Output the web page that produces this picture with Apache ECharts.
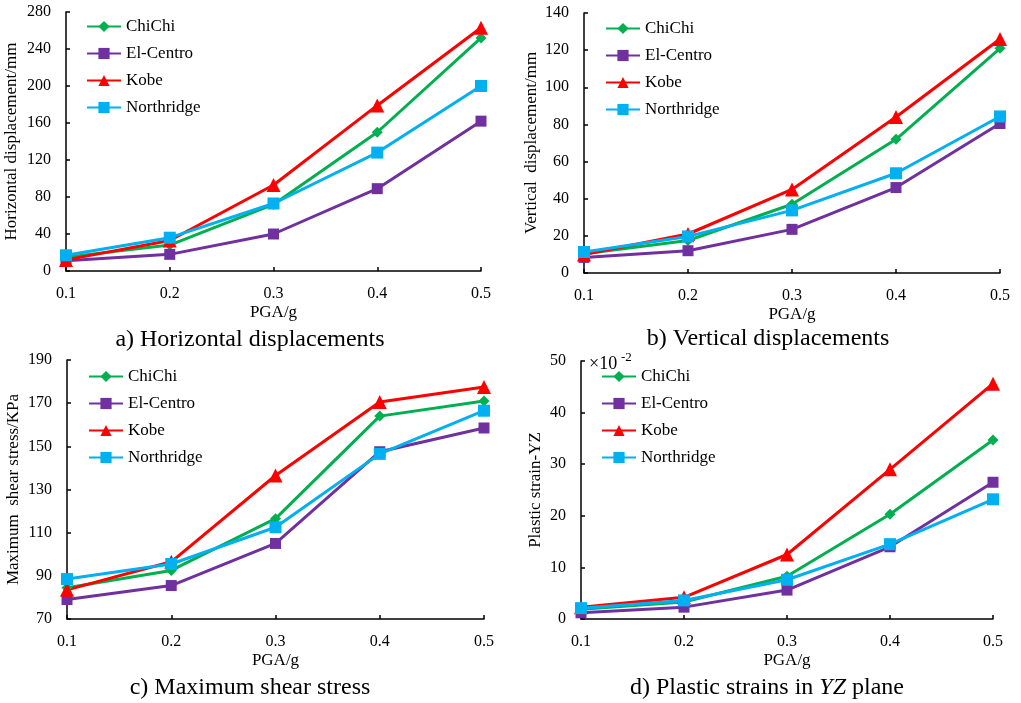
<!DOCTYPE html>
<html>
<head>
<meta charset="utf-8">
<script src="https://cdn.jsdelivr.net/npm/echarts@6/dist/echarts.min.js"></script>
<style>
  html, body { margin: 0; padding: 0; background: #fff; }
  #main { width: 1021px; height: 703px; }
</style>
</head>
<body>
<div id="main"></div>
<script>
// PGA levels
const pga = ['0.1', '0.2', '0.3', '0.4', '0.5'];
const names = ['ChiChi', 'El-Centro', 'Kobe', 'Northridge'];

// a) horizontal displacement, mm
const horChiChi = [15, 28, 72, 150, 252];
const horElCentro = [11, 18, 40, 89, 162];
const horKobe = [12, 33, 93, 179, 263];
const horNorthridge = [17, 36, 73, 128, 200];

// b) vertical displacement, mm
const verChiChi = [10.4, 17.5, 37, 72, 121];
const verElCentro = [8.4, 12, 23.5, 46, 80.5];
const verKobe = [10, 21, 45, 84, 126];
const verNorthridge = [11.3, 19.7, 33.7, 53.7, 84.3];

// c) maximum shear stress, KPa
const shearChiChi = [84.5, 92.5, 116.5, 164, 171];
const shearElCentro = [79, 85.5, 105, 147.5, 158.5];
const shearKobe = [83.5, 96.5, 136.5, 170.5, 177.5];
const shearNorthridge = [88.5, 95.5, 112.5, 146.5, 166.5];

// d) plastic strain YZ, x10^-2
const strainChiChi = [1.9, 3.3, 8.3, 20.3, 34.7];
const strainElCentro = [1.2, 2.3, 5.6, 14, 26.5];
const strainKobe = [2.3, 4.2, 12.5, 29, 45.6];
const strainNorthridge = [2.1, 3.6, 7.6, 14.5, 23.2];

const colors = ['#00B050', '#7030A0', '#FF0000', '#00B0F0'];
const symbols = ['diamond', 'rect', 'triangle', 'rect'];
const symbolSizes = [11, 11, 14, 12];

const serif = 'Liberation Serif';

const panels = [
  { grid: { left: 66, top: 12, width: 415, height: 259 }, yName: 'Horizontal displacement/mm', yMin: 0, yMax: 280, yStep: 40, nameGap: 46,
    legend: { left: 81, top: 13 }, data: [horChiChi, horElCentro, horKobe, horNorthridge] },
  { grid: { left: 584, top: 13, width: 416, height: 260 }, yName: 'Vertical  displacement/mm', yMin: 0, yMax: 140, yStep: 20, nameGap: 44,
    legend: { left: 600, top: 15 }, data: [verChiChi, verElCentro, verKobe, verNorthridge] },
  { grid: { left: 67, top: 360, width: 417, height: 259 }, yName: 'Maximum  shear stress/KPa', yMin: 70, yMax: 190, yStep: 20, nameGap: 45,
    legend: { left: 83, top: 363 }, data: [shearChiChi, shearElCentro, shearKobe, shearNorthridge] },
  { grid: { left: 581, top: 361, width: 412, height: 258 }, yName: 'Plastic strain-YZ', yMin: 0, yMax: 50, yStep: 10, nameGap: 37,
    legend: { left: 596, top: 363 }, data: [strainChiChi, strainElCentro, strainKobe, strainNorthridge] }
];

const axisLine = { lineStyle: { color: '#000', width: 1.5 } };
const axisTick = { inside: true, length: 4, lineStyle: { color: '#000', width: 1.5 } };

const option = {
  animation: false,
  grid: panels.map(p => p.grid),
  xAxis: panels.map((p, i) => ({
    type: 'category',
    gridIndex: i,
    data: pga,
    boundaryGap: false,
    name: 'PGA/g',
    nameLocation: 'middle',
    nameGap: 33,
    nameTextStyle: { color: '#000', fontFamily: serif, fontSize: 17 },
    axisLine: axisLine,
    axisTick: Object.assign({ alignWithLabel: true }, axisTick),
    axisLabel: { color: '#000', fontFamily: serif, fontSize: 16, margin: 15 },
    splitLine: { show: false }
  })),
  yAxis: panels.map((p, i) => ({
    type: 'value',
    gridIndex: i,
    min: p.yMin,
    max: p.yMax,
    interval: p.yStep,
    name: p.yName,
    nameLocation: 'middle',
    nameGap: p.nameGap,
    nameTextStyle: { color: '#000', fontFamily: serif, fontSize: 17 },
    axisLine: Object.assign({ show: true }, axisLine),
    axisTick: Object.assign({ show: true }, axisTick),
    axisLabel: { color: '#000', fontFamily: serif, fontSize: 16, margin: 15 },
    splitLine: { show: false }
  })),
  legend: panels.map(p => ({
    data: names,
    orient: 'vertical',
    left: p.legend.left,
    top: p.legend.top,
    itemWidth: 34,
    itemHeight: 14,
    itemGap: 10,
    textStyle: { color: '#000', fontFamily: serif, fontSize: 17 },
    selectedMode: false
  })),
  graphic: [
    { type: 'text', style: { text: 'a) Horizontal displacements', x: 250, y: 340, textAlign: 'center', textVerticalAlign: 'middle', font: '24px "Liberation Serif"', fill: '#000' } },
    { type: 'text', style: { text: 'b) Vertical displacements', x: 768, y: 339, textAlign: 'center', textVerticalAlign: 'middle', font: '24px "Liberation Serif"', fill: '#000' } },
    { type: 'text', style: { text: 'c) Maximum shear stress', x: 250, y: 688, textAlign: 'center', textVerticalAlign: 'middle', font: '24px "Liberation Serif"', fill: '#000' } },
    { type: 'text', style: {
        text: 'd) Plastic strains in {i|YZ} plane', x: 767, y: 688, textAlign: 'center', textVerticalAlign: 'middle',
        font: '24px "Liberation Serif"', fill: '#000',
        rich: { i: { fontStyle: 'italic', fontSize: 24, fontFamily: serif, fill: '#000' } }
      } },
    { type: 'text', style: { text: '×10', x: 589, y: 364, textVerticalAlign: 'middle', font: '18px "Liberation Serif"', fill: '#000' } },
    { type: 'text', style: { text: '-2', x: 621, y: 358, textVerticalAlign: 'middle', font: '13px "Liberation Serif"', fill: '#000' } }
  ],
  series: []
};

panels.forEach((p, i) => {
  names.forEach((n, k) => {
    option.series.push({
      name: n,
      type: 'line',
      xAxisIndex: i,
      yAxisIndex: i,
      data: p.data[k],
      symbol: symbols[k],
      symbolSize: symbolSizes[k],
      color: colors[k],
      lineStyle: { width: 3, color: colors[k] },
      itemStyle: { color: colors[k] }
    });
  });
});

const chart = echarts.init(document.getElementById('main'));
chart.setOption(option);
window.addEventListener('resize', () => chart.resize());
</script>
</body>
</html>
